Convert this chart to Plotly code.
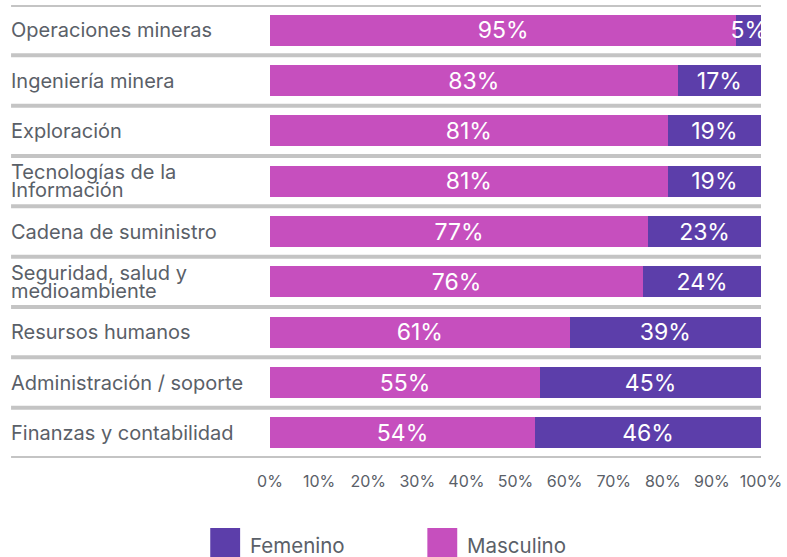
import plotly.graph_objects as go

categories = [
    "Operaciones mineras",
    "Ingeniería minera",
    "Exploración",
    "Tecnologías de la\nInformación",
    "Cadena de suministro",
    "Seguridad, salud y\nmedioambiente",
    "Resursos humanos",
    "Administración / soporte",
    "Finanzas y contabilidad",
]
masculino = [95, 83, 81, 81, 77, 76, 61, 55, 54]
femenino = [5, 17, 19, 19, 23, 24, 39, 45, 46]
tick_vals = [0, 10, 20, 30, 40, 50, 60, 70, 80, 90, 100]
tick_text = [f"{v}%" for v in tick_vals]

C_MASC = "#C64FBE"
C_FEM = "#5C3EAA"
GRAY_TXT = "#5A6068"
FONT = "Inter, 'Open Sans', sans-serif"

W, H = 787, 557
ML, MR, MT, MB = 270, 24, 5, 99
PW = W - ML - MR
PH = H - MT - MB

def px_x(px):
    return (px - ML) / PW

def px_y(py):
    return (H - MB - py) / PH

ykeys = list(range(len(categories)))

fig = go.Figure()
fig.add_trace(go.Bar(
    y=ykeys, x=masculino, orientation="h", name="Masculino",
    marker=dict(color=C_MASC, line=dict(width=0)),
    text=[f"{v}%" for v in masculino], textposition="inside", textangle=0,
    insidetextanchor="middle", textfont=dict(color="white", size=23, family=FONT),
))
fig.add_trace(go.Bar(
    y=ykeys, x=femenino, orientation="h", name="Femenino",
    marker=dict(color=C_FEM, line=dict(width=0)),
    text=[f"{v}%" for v in femenino], textposition="inside", textangle=0,
    insidetextanchor="middle", textfont=dict(color="white", size=23, family=FONT),
))

shapes = []
for i in range(len(categories) + 1):
    shapes.append(dict(type="line", xref="paper", yref="y",
                       x0=px_x(10), x1=1, y0=i - 0.5, y1=i - 0.5,
                       line=dict(color="#C4C4C4", width=4), layer="below"))

annotations = []
for i, lab in enumerate(categories):
    lines = lab.split("\n")
    n = len(lines)
    for j, ln in enumerate(lines):
        shift = (-(j - (n - 1) / 2)) * 17.5
        annotations.append(dict(x=px_x(8), y=i, xref="paper", yref="y",
                                text=ln, showarrow=False, xanchor="left",
                                yanchor="middle", yshift=shift,
                                font=dict(size=20, color=GRAY_TXT, family=FONT)))

# custom legend
legend_items = [("Femenino", C_FEM, 210), ("Masculino", C_MASC, 428)]
for name, col, x0 in legend_items:
    shapes.append(dict(type="rect", xref="paper", yref="paper",
                       x0=px_x(x0), x1=px_x(x0 + 30), y0=px_y(562), y1=px_y(528),
                       fillcolor=col, line=dict(width=0)))
    annotations.append(dict(x=px_x(x0 + 38), y=px_y(545), xref="paper", yref="paper",
                            text=name, showarrow=False, xanchor="left", yanchor="middle",
                            font=dict(size=20.5, color=GRAY_TXT, family=FONT)))

fig.update_layout(
    width=W, height=H, barmode="stack", bargap=0.38,
    margin=dict(l=ML, r=MR, t=MT, b=MB),
    plot_bgcolor="white", paper_bgcolor="white",
    showlegend=False,
    shapes=shapes, annotations=annotations,
    uniformtext=dict(minsize=23, mode="show"),
    font=dict(family=FONT),
)
fig.update_xaxes(range=[0, 100], tickvals=tick_vals, ticktext=tick_text,
                 showgrid=False, zeroline=False, showline=False,
                 ticks="outside", ticklen=9, tickcolor="rgba(0,0,0,0)",
                 tickfont=dict(size=16, color=GRAY_TXT, family=FONT), fixedrange=True)
fig.update_yaxes(range=[len(categories) - 0.5, -0.5], showticklabels=False,
                 showgrid=False, zeroline=False, showline=False, fixedrange=True)

fig.write_html("out.html", config={"displayModeBar": False, "staticPlot": True},
               post_script="document.body.style.margin='0';document.body.style.overflow='hidden';")
